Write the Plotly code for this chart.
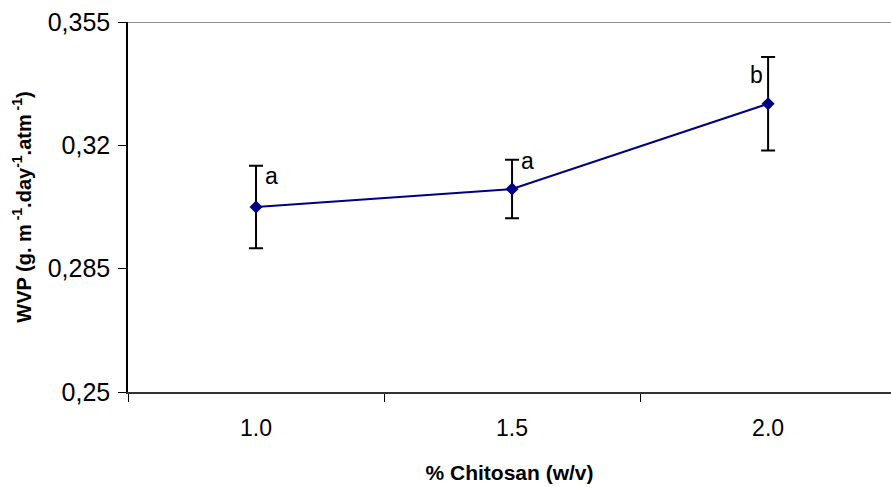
import plotly.graph_objects as go

categories = ["1.0", "1.5", "2.0"]
wvp = [0.3025, 0.3076, 0.3318]
wvp_err = [0.0117, 0.0083, 0.0133]
letters = ["a", "a", "b"]
y_ticks = [0.25, 0.285, 0.32, 0.355]
y_ticktext = ["0,25", "0,285", "0,32", "0,355"]
y_range = [0.25, 0.355]

FONT = "Arial, Liberation Sans, sans-serif"

fig = go.Figure()
fig.add_trace(go.Scatter(
    x=categories, y=wvp,
    mode="lines+markers",
    line=dict(color="#000080", width=2),
    marker=dict(symbol="diamond", size=10, color="#000080"),
    error_y=dict(type="data", array=wvp_err, visible=True, color="black", thickness=2, width=7),
    showlegend=False,
))

# letter labels (positioned by category index)
offsets = [(7, -10, "left"), (7, -1, "left"), (-3, -18, "right")]
for i, (v, e, lab) in enumerate(zip(wvp, wvp_err, letters)):
    xs, ys, anc = offsets[i]
    fig.add_annotation(x=i, y=v + e, xref="x", yref="y", text=lab, showarrow=False,
                       xanchor=anc, yanchor="middle", xshift=xs, yshift=ys,
                       font=dict(family=FONT, size=23, color="black"))

# top border line (gray) at y max
fig.add_shape(type="line", xref="paper", yref="y", x0=0, x1=1, y0=y_range[1], y1=y_range[1],
              line=dict(color="#8c8c8c", width=2))

fig.update_layout(
    width=891, height=487,
    margin=dict(l=128, r=0, t=22, b=95, autoexpand=False),
    paper_bgcolor="white", plot_bgcolor="white",
    font=dict(family=FONT, color="black"),
)
fig.update_xaxes(
    type="category", range=[-0.5, 2.48], automargin=False,
    tickson="boundaries", ticks="outside", ticklen=8, tickwidth=1, tickcolor="black",
    showline=True, linecolor="#333333", linewidth=2,
    showgrid=False, zeroline=False,
    tickfont=dict(family=FONT, size=23, color="black"),
    ticklabelstandoff=14,
    title=dict(text="<b>% Chitosan (w/v)</b>", font=dict(family=FONT, size=21, color="black"), standoff=26),
)
fig.update_yaxes(
    range=y_range, tickvals=y_ticks, ticktext=y_ticktext, automargin=False,
    ticks="outside", ticklen=8, tickwidth=1, tickcolor="black",
    showline=True, linecolor="black", linewidth=1.5,
    showgrid=False, zeroline=False,
    tickfont=dict(family=FONT, size=25, color="black"),
    ticklabelstandoff=3,
    title=dict(text="<b>WVP (g. m<sup> -1</sup>.day<sup>-1</sup>.atm<sup> -1</sup>)</b>",
               font=dict(family=FONT, size=20, color="black"), standoff=11),
)

fig.write_html("out.html", config={"displayModeBar": False},
               post_script="document.body.style.margin='0';document.body.style.overflow='hidden';")
